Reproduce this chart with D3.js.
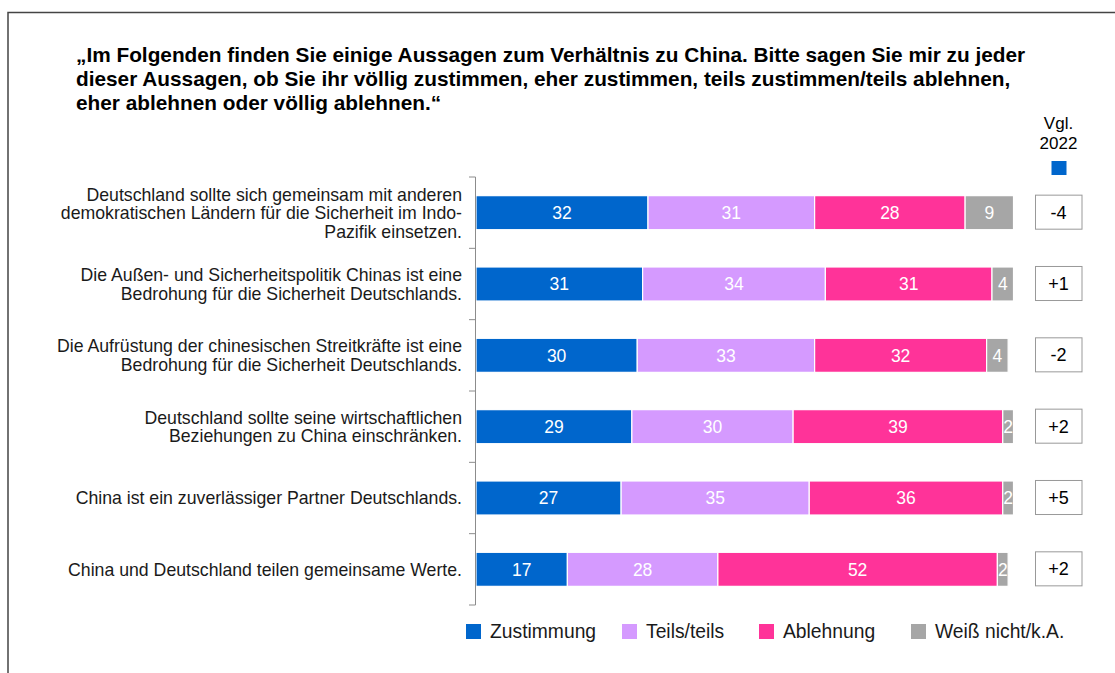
<!DOCTYPE html>
<html>
<head>
<meta charset="utf-8">
<script src="https://cdn.jsdelivr.net/npm/d3@7"></script>
<style>
  html, body { margin: 0; padding: 0; background: #fff; }
  svg { display: block; font-family: "Liberation Sans", Arial, sans-serif; }
</style>
</head>
<body>
<svg id="chart" width="1115" height="673"></svg>
<script>
// Survey statements (rows, top to bottom)
const statements = [
  ["Deutschland sollte sich gemeinsam mit anderen", "demokratischen Ländern für die Sicherheit im Indo-", "Pazifik einsetzen."],
  ["Die Außen- und Sicherheitspolitik Chinas ist eine", "Bedrohung für die Sicherheit Deutschlands."],
  ["Die Aufrüstung der chinesischen Streitkräfte ist eine", "Bedrohung für die Sicherheit Deutschlands."],
  ["Deutschland sollte seine wirtschaftlichen", "Beziehungen zu China einschränken."],
  ["China ist ein zuverlässiger Partner Deutschlands."],
  ["China und Deutschland teilen gemeinsame Werte."]
];

// Answer categories and shares in percent
const categories = ["Zustimmung", "Teils/teils", "Ablehnung", "Weiß nicht/k.A."];
const zustimmung = [32, 31, 30, 29, 27, 17];
const teils      = [31, 34, 33, 30, 35, 28];
const ablehnung  = [28, 31, 32, 39, 36, 52];
const weissNicht = [9, 4, 4, 2, 2, 2];

// Change in agreement compared with 2022
const vgl2022 = ["-4", "+1", "-2", "+2", "+5", "+2"];

const titleLines = [
  "„Im Folgenden finden Sie einige Aussagen zum Verhältnis zu China. Bitte sagen Sie mir zu jeder",
  "dieser Aussagen, ob Sie ihr völlig zustimmen, eher zustimmen, teils zustimmen/teils ablehnen,",
  "eher ablehnen oder völlig ablehnen.“"
];

const colors = ["#0066CC", "#D59AFF", "#FF3399", "#A6A6A6"];

const svg = d3.select("#chart");

// Frame around the slide
svg.append("path")
  .attr("d", "M8,673 L8,12.5 L1115,12.5")
  .attr("fill", "none")
  .attr("stroke", "#444")
  .attr("stroke-width", 1.5);

// Title
const title = svg.append("text")
  .attr("x", 76)
  .attr("font-size", 20.8)
  .attr("font-weight", "bold")
  .attr("fill", "#000");
titleLines.forEach((t, i) => {
  title.append("tspan").attr("x", 76).attr("y", 62 + i * 24).text(t);
});

// Scales
const rowIds = d3.range(statements.length);
const y = d3.scaleBand()
  .domain(rowIds)
  .range([177, 605])
  .paddingInner(0.523)
  .paddingOuter(0.2615);

const x = d3.scaleLinear().domain([0, 100]).range([476, 1013.5]);

const rows = rowIds.map(i => ({
  i,
  values: [zustimmung[i], teils[i], ablehnung[i], weissNicht[i]]
}));

const stackData = rows.map(r => {
  const o = { i: r.i };
  categories.forEach((c, k) => o[c] = r.values[k]);
  return o;
});
const series = d3.stack().keys(categories)(stackData);

// Bars
const layer = svg.append("g").selectAll("g")
  .data(series)
  .join("g")
  .attr("fill", (d, k) => colors[k]);

layer.selectAll("rect")
  .data(d => d)
  .join("rect")
  .attr("x", d => x(d[0]))
  .attr("y", d => y(d.data.i))
  .attr("width", d => x(d[1]) - x(d[0]))
  .attr("height", y.bandwidth())
  .attr("stroke", "#fff")
  .attr("stroke-width", 1.2);

// Value labels inside segments
layer.selectAll("text")
  .data(d => d)
  .join("text")
  .attr("x", d => (x(d[0]) + x(d[1])) / 2)
  .attr("y", d => y(d.data.i) + y.bandwidth() / 2)
  .attr("dy", "0.36em")
  .attr("text-anchor", "middle")
  .attr("font-size", 17.5)
  .attr("fill", "#fff")
  .text(d => d[1] - d[0]);

// Category axis with ticks between rows
const axisG = svg.append("g").attr("stroke", "#8c8c8c").attr("stroke-width", 1);
const y0 = y.range()[0];
axisG.append("line")
  .attr("x1", 475.5).attr("x2", 475.5)
  .attr("y1", y0).attr("y2", y.range()[1]);
axisG.selectAll("line.tick")
  .data(d3.range(statements.length + 1))
  .join("line")
  .attr("class", "tick")
  .attr("x1", 469).attr("x2", 475.5)
  .attr("y1", k => y0 + k * y.step())
  .attr("y2", k => y0 + k * y.step());

// Statement labels
const lineH = 18.5;
const labels = svg.append("g").selectAll("text")
  .data(rowIds)
  .join("text")
  .attr("text-anchor", "end")
  .attr("font-size", 17.7)
  .attr("fill", "#1a1a1a");
labels.each(function(i) {
  const lines = statements[i];
  const cy = y(i) + y.bandwidth() / 2;
  const top = cy - (lines.length - 1) * lineH / 2;
  d3.select(this).selectAll("tspan")
    .data(lines)
    .join("tspan")
    .attr("x", 462)
    .attr("y", (d, k) => top + k * lineH)
    .attr("dy", "0.36em")
    .text(d => d);
});

// Comparison with 2022
const cmpX = 1058.5;
svg.append("text")
  .attr("x", cmpX).attr("y", 129)
  .attr("text-anchor", "middle").attr("font-size", 17)
  .attr("fill", "#000").text("Vgl.");
svg.append("text")
  .attr("x", cmpX).attr("y", 149)
  .attr("text-anchor", "middle").attr("font-size", 17)
  .attr("fill", "#000").text("2022");
svg.append("rect")
  .attr("x", cmpX - 7).attr("y", 161)
  .attr("width", 15).attr("height", 14)
  .attr("fill", colors[0]);

const cmp = svg.append("g").selectAll("g")
  .data(rowIds)
  .join("g");
cmp.append("rect")
  .attr("x", 1035.5)
  .attr("y", i => y(i) - 0.5)
  .attr("width", 46.5)
  .attr("height", y.bandwidth())
  .attr("fill", "#fff")
  .attr("stroke", "#999")
  .attr("stroke-width", 1);
cmp.append("text")
  .attr("x", cmpX)
  .attr("y", i => y(i) + y.bandwidth() / 2 - 0.5)
  .attr("dy", "0.36em")
  .attr("text-anchor", "middle")
  .attr("font-size", 18)
  .attr("fill", "#000")
  .text(i => vgl2022[i]);

// Legend
const legendX = [466, 622, 759, 911];
const legend = svg.append("g").selectAll("g")
  .data(categories)
  .join("g")
  .attr("transform", (d, k) => `translate(${legendX[k]},624)`);
legend.append("rect")
  .attr("width", 15).attr("height", 15)
  .attr("fill", (d, k) => colors[k]);
legend.append("text")
  .attr("x", 24).attr("y", 7.5)
  .attr("dy", "0.36em")
  .attr("font-size", 19.3)
  .attr("fill", "#1a1a1a")
  .text(d => d);
</script>
</body>
</html>
